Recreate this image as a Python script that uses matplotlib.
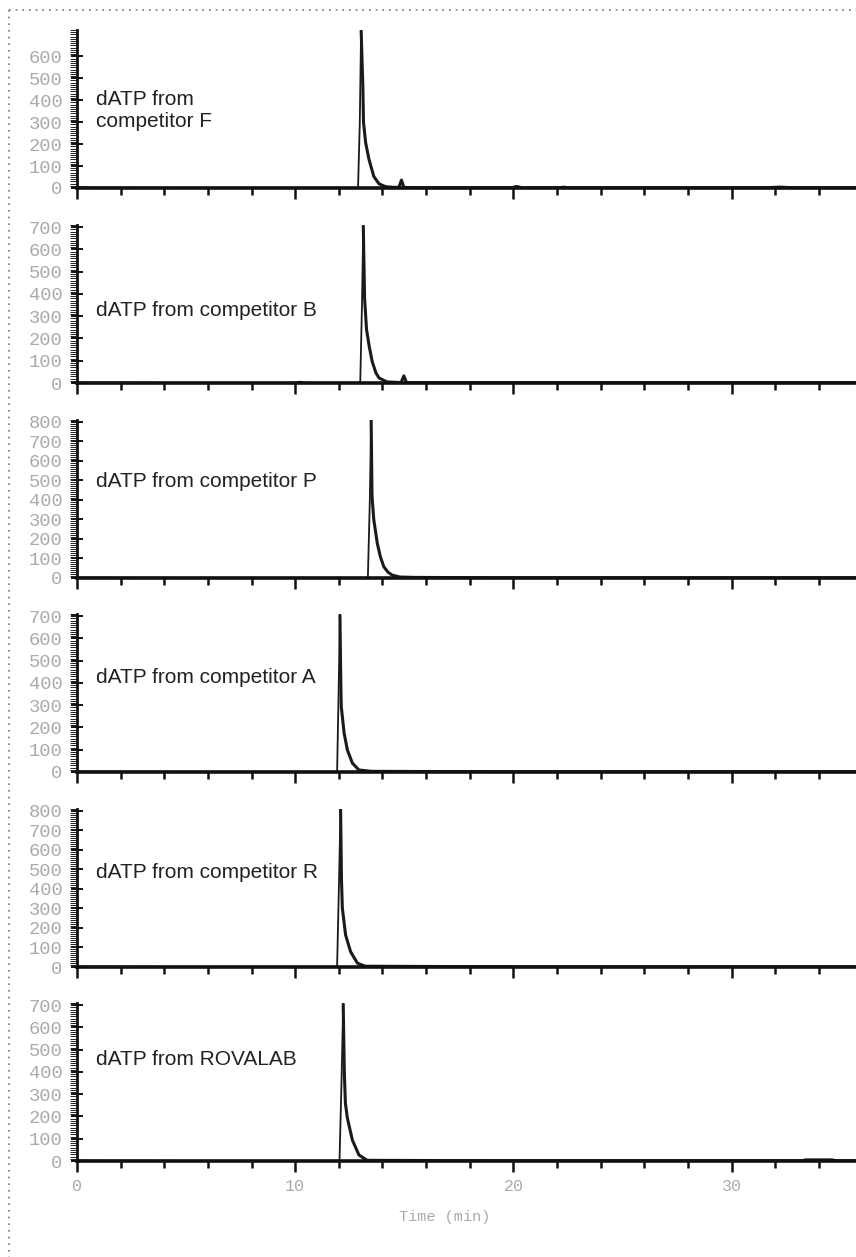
import matplotlib
matplotlib.use("Agg")
import matplotlib.pyplot as plt
from matplotlib.lines import Line2D
from matplotlib.ticker import MultipleLocator, FixedLocator
import numpy as np

# ---------------- data ----------------
labels = ["dATP from\ncompetitor F", "dATP from competitor B", "dATP from competitor P",
          "dATP from competitor A", "dATP from competitor R", "dATP from ROVALAB"]

t_F = [0, 0.3, 1.0, 5.0, 9.0, 12.88, 12.96, 13.02, 13.10, 13.13, 13.23, 13.38, 13.60, 13.84, 14.14,
       14.5, 14.75, 14.87, 14.98, 15.1, 16.0, 19.9, 20.15, 20.4, 22.1, 22.3, 22.5, 31.5, 32.2, 32.9, 35.7]
v_F = [3, 4, 2, 1, 1, 1, 300, 725, 460, 300, 205, 131, 53, 19, 6,
       3, 3, 36, 3, 2, 1, 1, 7, 1, 1, 4, 1, 1, 4, 1, 1]

t_B = [0, 0.5, 4.0, 9.9, 10.2, 10.5, 12.98, 13.06, 13.12, 13.18, 13.27, 13.40, 13.53, 13.70, 13.84,
       14.2, 14.85, 14.98, 15.1, 20.0, 35.7]
v_B = [3, 2, 1, 1, 6, 1, 1, 350, 705, 380, 239, 160, 96, 45, 23,
       5, 2, 32, 2, 1, 1]

t_P = [0, 0.5, 5.0, 13.33, 13.42, 13.48, 13.52, 13.60, 13.76, 13.90, 14.06, 14.25, 14.44, 14.8, 15.5, 20.0, 35.7]
v_P = [3, 2, 1, 1, 400, 815, 420, 300, 179, 110, 58, 30, 15, 5, 3, 1, 1]

t_A = [0, 0.5, 5.0, 11.92, 11.99, 12.05, 12.09, 12.11, 12.24, 12.39, 12.62, 12.92, 13.5, 20.0, 35.7]
v_A = [3, 2, 1, 1, 360, 705, 400, 295, 176, 99, 40, 9, 3, 1, 1]

t_R = [0, 0.5, 5.0, 11.92, 12.00, 12.08, 12.12, 12.16, 12.31, 12.54, 12.85, 13.2, 20.0, 35.7]
v_R = [3, 2, 1, 1, 400, 810, 450, 302, 164, 78, 20, 4, 1, 1]

t_V = [0, 0.5, 5.0, 12.03, 12.12, 12.20, 12.25, 12.30, 12.39, 12.62, 12.92, 13.3, 20.0, 33.2, 33.4, 34.6, 34.8, 35.7]
v_V = [3, 2, 1, 1, 350, 705, 400, 260, 193, 94, 27, 3, 1, 1, 5, 5, 1, 1]

times = [t_F, t_B, t_P, t_A, t_R, t_V]
values = [v_F, v_B, v_P, v_A, v_R, v_V]

# integration baselines under the main peaks (start, end in min)
base_start = [12.88, 12.98, 13.33, 11.92, 11.92, 12.03]
base_end = [14.00, 14.05, 14.45, 13.90, 13.80, 13.90]

y_top = [720, 710, 810, 710, 810, 710]
y_tick_max = [600, 700, 800, 700, 800, 700]
x_ticks_major = [0, 10, 20, 30]

# ---------------- figure ----------------
W, H = 856, 1257
fig = plt.figure(figsize=(W / 100, H / 100), dpi=100)

ax_left = 77 / W
ax_width = 1 - ax_left
ax_h = 158 / H
zero_px = [188, 383, 578, 772, 967, 1161]
label_frac = [0.49, 0.46, 0.61, 0.60, 0.60, 0.64]

tick_color = "#aaaaaa"
mono = ["Liberation Mono", "DejaVu Sans Mono"]

for i in range(6):
    bottom = (H - zero_px[i]) / H
    ax = fig.add_axes([ax_left, bottom, ax_width, ax_h])
    t = np.array(times[i], dtype=float)
    v = np.array(values[i], dtype=float)
    k = int(np.argmax(v))
    ax.plot(t[:k + 1], v[:k + 1], color="#1a1a1a", lw=1.3, solid_joinstyle="round")
    ax.plot(t[k:], v[k:], color="#1a1a1a", lw=2.2, solid_joinstyle="round", solid_capstyle="round")
    ax.plot([base_start[i], base_end[i]], [0, 0], color="#333333", lw=0.9)

    ax.set_xlim(0, 35.7)
    ax.set_ylim(0, y_top[i])
    for s in ["top", "right"]:
        ax.spines[s].set_visible(False)
    ax.spines["bottom"].set_linewidth(2.6)
    ax.spines["left"].set_linewidth(2.0)
    ax.spines["bottom"].set_color("#111111")
    ax.spines["left"].set_color("#111111")

    ax.yaxis.set_major_locator(FixedLocator(list(range(0, y_tick_max[i] + 1, 100))))
    ax.yaxis.set_minor_locator(MultipleLocator(10))
    ax.xaxis.set_major_locator(FixedLocator(x_ticks_major))
    ax.xaxis.set_minor_locator(MultipleLocator(2))

    ax.tick_params(axis="y", which="major", direction="inout", length=9, width=1.4,
                   color="#111111", labelcolor=tick_color, labelsize=13.5, pad=6)
    ax.tick_params(axis="y", which="minor", direction="out", length=5, width=0.7, color="#222222")
    ax.tick_params(axis="x", which="major", direction="out", length=8, width=1.8,
                   color="#111111", labelcolor=tick_color, labelsize=12, pad=5)
    ax.tick_params(axis="x", which="minor", direction="out", length=5, width=1.8, color="#111111")
    for lab in ax.get_yticklabels() + ax.get_xticklabels():
        lab.set_family(mono)
    if i < 5:
        ax.tick_params(axis="x", which="major", labelbottom=False)
    ax.patch.set_alpha(0)

    ax.text(19 / (W - 77), label_frac[i], labels[i], transform=ax.transAxes,
            ha="left", va="center", fontsize=15, family=["Liberation Sans", "DejaVu Sans"],
            color="#222222", linespacing=1.2)

fig.text(445 / W, 1 - 1217 / H, "Time (min)", ha="center", va="center",
         fontsize=11, family=mono, color=tick_color)

# dotted border (top and left)
fig.add_artist(Line2D([9 / W, 1.0], [1 - 10 / H, 1 - 10 / H], transform=fig.transFigure,
                      color="#777777", lw=1.2, linestyle=(0, (1, 3))))
fig.add_artist(Line2D([9 / W, 9 / W], [1 - 10 / H, 0.0], transform=fig.transFigure,
                      color="#777777", lw=1.2, linestyle=(0, (1, 3))))

fig.savefig("out.png", dpi=100, facecolor="white")
